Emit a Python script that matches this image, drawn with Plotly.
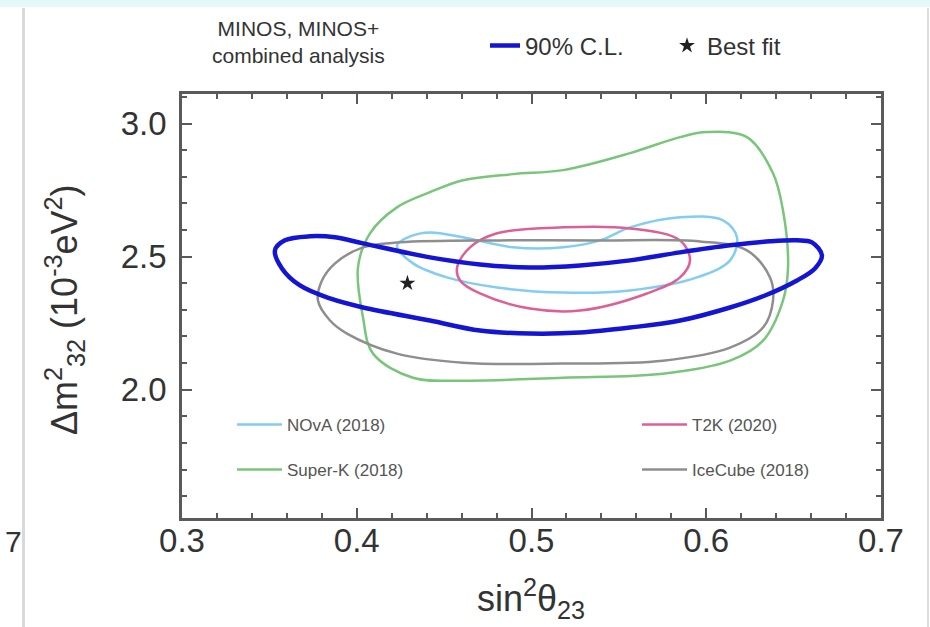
import plotly.graph_objects as go

# ---------------- data ----------------
minos_x = [0.4991, 0.5278, 0.5564, 0.5850, 0.6136, 0.6365, 0.6519, 0.6605, 0.6662, 0.6622,
           0.6519, 0.6336, 0.6136, 0.5850, 0.5564, 0.5278, 0.4991, 0.4705, 0.4419, 0.4036,
           0.3847, 0.3675, 0.3572, 0.3532, 0.3589, 0.3732, 0.3876, 0.4036, 0.4419, 0.4705]
minos_y = [2.4595, 2.4670, 2.4859, 2.5160, 2.5424, 2.5574, 2.5612, 2.5537, 2.5047, 2.4557,
           2.4105, 2.3540, 2.3089, 2.2599, 2.2335, 2.2147, 2.2109, 2.2222, 2.2599, 2.3089,
           2.3427, 2.3917, 2.4557, 2.5235, 2.5612, 2.5763, 2.5725, 2.5499, 2.4972, 2.4708]

best_fit_x = [0.429]
best_fit_y = [2.40]

nova_x = [0.5180, 0.5392, 0.5564, 0.5850, 0.6096, 0.6176, 0.6136, 0.5947, 0.5564, 0.5180,
          0.4803, 0.4516, 0.4322, 0.4230, 0.4305, 0.4419, 0.4608, 0.4894]
nova_y = [2.535, 2.561, 2.610, 2.648, 2.6365, 2.5725, 2.486, 2.422, 2.373, 2.365,
          2.384, 2.422, 2.4746, 2.542, 2.576, 2.591, 2.5725, 2.535]

t2k_x = [0.5180, 0.5564, 0.5850, 0.5907, 0.5850, 0.5661, 0.5278, 0.4991, 0.4705, 0.4591,
         0.4574, 0.4648, 0.4803]
t2k_y = [2.610, 2.606, 2.561, 2.486, 2.422, 2.3616, 2.2975, 2.305, 2.3616, 2.4105,
         2.4595, 2.535, 2.5876]

superk_x = [0.5180, 0.5564, 0.5850, 0.6004, 0.6233, 0.6382, 0.6439, 0.6468, 0.6439, 0.6325,
            0.6136, 0.5752, 0.5180, 0.4608, 0.4322, 0.4093, 0.4036, 0.4007, 0.4076, 0.4230,
            0.4419, 0.4608, 0.4894]
superk_y = [2.825, 2.889, 2.949, 2.968, 2.949, 2.8135, 2.674, 2.4595, 2.335, 2.1846,
            2.109, 2.060, 2.045, 2.034, 2.045, 2.1356, 2.271, 2.4595, 2.5876, 2.685,
            2.742, 2.787, 2.810]

icecube_x = [0.4820, 0.5392, 0.5964, 0.6233, 0.6365, 0.6382, 0.6325, 0.6136, 0.5752, 0.5180,
             0.4608, 0.4230, 0.3944, 0.3847, 0.3778, 0.3801, 0.3876, 0.4036, 0.4248]
icecube_y = [2.561, 2.561, 2.557, 2.5235, 2.422, 2.335, 2.2335, 2.158, 2.109, 2.098,
             2.1017, 2.1356, 2.211, 2.260, 2.335, 2.410, 2.4746, 2.535, 2.5537]

x_ticks = [0.3, 0.4, 0.5, 0.6, 0.7]
y_ticks = [2.0, 2.5, 3.0]

# ---------------- figure ----------------
W, H = 930, 627
L, R, T, B = 182, 49, 94, 109
PW, PH = W - L - R, H - T - B


def px(xpix):
    return (xpix - L) / PW


def py(ypix):
    return (H - B - ypix) / PH


def closed(xs, ys):
    return list(xs) + [xs[0]], list(ys) + [ys[0]]


FONT = "Liberation Sans, Arial, Helvetica, sans-serif"
fig = go.Figure()

contours = [
    ("NOvA (2018)", nova_x, nova_y, "#82cdf1", "legend3"),
    ("T2K (2020)", t2k_x, t2k_y, "#dc5f95", "legend4"),
    ("Super-K (2018)", superk_x, superk_y, "#79c67a", "legend5"),
    ("IceCube (2018)", icecube_x, icecube_y, "#8e8e8e", "legend6"),
]
for name, xs, ys, col, lg in contours:
    cx, cy = closed(xs, ys)
    fig.add_trace(go.Scatter(x=cx, y=cy, mode="lines", name=name, legend=lg, showlegend=True,
                             line=dict(color=col, width=2.5, shape="spline", smoothing=1.0),
                             hoverinfo="skip"))

mx, my = closed(minos_x, minos_y)
fig.add_trace(go.Scatter(x=mx, y=my, mode="lines", name="90% C.L.", legend="legend", showlegend=True,
                         line=dict(color="#1414d4", width=4.5, shape="spline", smoothing=1.0)))
fig.add_trace(go.Scatter(x=best_fit_x, y=best_fit_y, mode="markers", name="Best fit", legend="legend2",
                         showlegend=True, marker=dict(symbol="star", size=12, color="#222222")))

leg_common = dict(bgcolor="rgba(0,0,0,0)", borderwidth=0, xanchor="left", yanchor="middle",
                  orientation="v", visible=True)
fig.update_layout(
    width=W, height=H,
    showlegend=True,
    margin=dict(l=L, r=R, t=T, b=B),
    paper_bgcolor="white", plot_bgcolor="white",
    font=dict(family=FONT, color="#333333"),
    legend=dict(x=px(485), y=py(46), font=dict(size=24, color="#333333"), **leg_common),
    legend2=dict(x=px(667), y=py(46), font=dict(size=24, color="#333333"), **leg_common),
    legend3=dict(x=px(232), y=py(425), font=dict(size=17, color="#555555"), itemwidth=45, **leg_common),
    legend4=dict(x=px(637), y=py(425), font=dict(size=17, color="#555555"), itemwidth=45, **leg_common),
    legend5=dict(x=px(232), y=py(470), font=dict(size=17, color="#555555"), itemwidth=45, **leg_common),
    legend6=dict(x=px(637), y=py(470), font=dict(size=17, color="#555555"), itemwidth=45, **leg_common),
)

axis_common = dict(showgrid=False, zeroline=False, showline=True, linecolor="#5a5a5a", linewidth=2.5,
                   mirror="ticks", ticks="inside", ticklen=10, tickwidth=2, tickcolor="#5a5a5a",
                   tickfont=dict(size=33, color="#333333", family=FONT))
fig.update_xaxes(range=[0.3, 0.7], tickvals=x_ticks, ticktext=[f"{v:.1f}" for v in x_ticks],
                 minor=dict(dtick=0.02, ticks="inside", ticklen=5, tickwidth=1.5, tickcolor="#5a5a5a"),
                 ticklabelstandoff=-8, **axis_common)
fig.update_yaxes(range=[1.518, 3.111], tickvals=y_ticks, ticktext=[f"{v:.1f}" for v in y_ticks],
                 minor=dict(dtick=0.1, ticks="inside", ticklen=5, tickwidth=1.5, tickcolor="#5a5a5a"),
                 ticklabelstandoff=6, **axis_common)

# axis titles and header text
fig.add_annotation(text="sin<sup>2</sup>θ<sub>23</sub>", xref="paper", yref="paper",
                   x=px(531), y=py(598), showarrow=False, font=dict(size=36, color="#333333"),
                   xanchor="center", yanchor="middle")
fig.add_annotation(text="Δm<sup>2</sup><sub>32</sub> (10<sup>-3</sup>eV<sup>2</sup>)", xref="paper", yref="paper",
                   x=px(64), y=py(310), showarrow=False, textangle=-90,
                   font=dict(size=36, color="#333333"), xanchor="center", yanchor="middle")
fig.add_annotation(text="MINOS, MINOS+<br>combined analysis", xref="paper", yref="paper",
                   x=px(298), y=py(42), showarrow=False, font=dict(size=21, color="#333333"),
                   xanchor="center", yanchor="middle", align="center")

# slide fragments around the chart
fig.add_shape(type="rect", xref="paper", yref="paper", x0=px(0), x1=px(930), y0=py(0), y1=py(7),
              fillcolor="#e2f8fb", line=dict(width=0), layer="below")
fig.add_shape(type="line", xref="paper", yref="paper", x0=px(23.5), x1=px(23.5), y0=py(8), y1=py(627),
              line=dict(color="#d9d9d9", width=3))
fig.add_shape(type="line", xref="paper", yref="paper", x0=px(928), x1=px(928), y0=py(8), y1=py(627),
              line=dict(color="#dddddd", width=2))
fig.add_annotation(text="7", xref="paper", yref="paper", x=px(13), y=py(541), showarrow=False,
                   font=dict(size=30, color="#333333"), xanchor="center", yanchor="middle")

fig.write_html("out.html", config={"displayModeBar": False},
               post_script="document.body.style.margin='0';document.body.style.overflow='hidden';")
